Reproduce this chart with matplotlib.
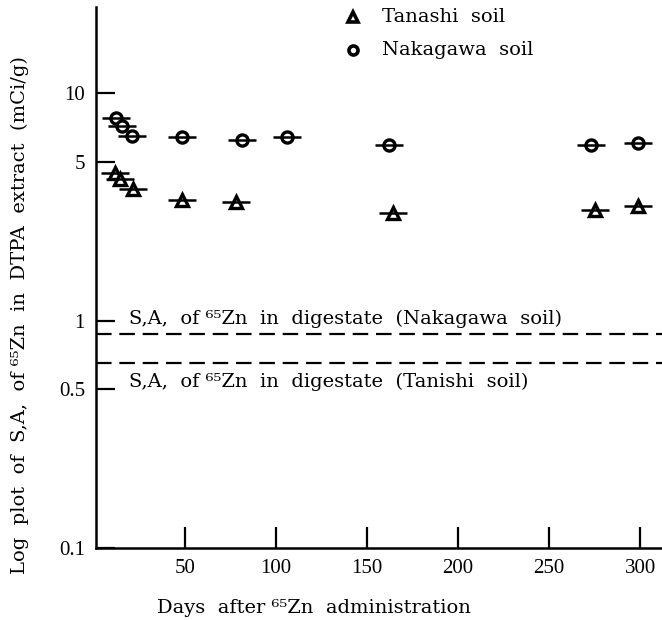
import matplotlib
matplotlib.use('Agg')
import matplotlib.pyplot as plt

plt.rcParams['font.family'] = ['DejaVu Serif', 'Liberation Serif']

# Données
days_nakagawa = [12, 15.5, 21, 48, 81, 106, 162, 273, 299]
sa_nakagawa = [7.8, 7.15, 6.5, 6.4, 6.2, 6.45, 5.95, 5.95, 6.05]
days_tanashi = [11.5, 14, 21.5, 48, 78, 164, 275, 299]
sa_tanashi = [4.45, 4.18, 3.78, 3.38, 3.31, 2.99, 3.08, 3.18]

digest_nakagawa = 0.877
digest_tanishi = 0.653

yticks = [0.1, 0.5, 1, 5, 10]
ytick_labels = ['0.1', '0.5', '1', '5', '10']
xticks = [50, 100, 150, 200, 250, 300]

fig = plt.figure(figsize=(6.62, 6.20), dpi=100)
ax = fig.add_axes([0.145, 0.116, 0.855, 0.873])
ax.set_yscale('log')
ax.set_xlim(1, 312)
ax.set_ylim(0.1, 24)

# Points + petits traits horizontaux
ax.plot(days_nakagawa, sa_nakagawa, 'o', ms=8, mfc='white', mec='black', mew=2.4, ls='none')
ax.plot(days_nakagawa, sa_nakagawa, '_', ms=20, mec='black', mew=1.8, ls='none')
ax.plot(days_tanashi, sa_tanashi, '^', ms=8, mfc='white', mec='black', mew=2.4, ls='none')
ax.plot(days_tanashi, sa_tanashi, '_', ms=20, mec='black', mew=1.8, ls='none')

# Lignes de l'activité spécifique du digestat
ax.axhline(digest_nakagawa, color='black', lw=1.6, dashes=(7, 3.5))
ax.axhline(digest_tanishi, color='black', lw=1.6, dashes=(7, 3.5))
ax.text(19, 1.02, 'S,A,  of \u2076\u2075Zn  in  digestate  (Nakagawa  soil)', fontsize=14,
        va='center', ha='left')
ax.text(19, 0.54, 'S,A,  of \u2076\u2075Zn  in  digestate  (Tanishi  soil)', fontsize=14,
        va='center', ha='left')

# Légende faite à la main
ax.plot([142], [21.6], '^', ms=7, mfc='white', mec='black', mew=2.6, clip_on=False)
ax.plot([142], [15.5], 'o', ms=6.5, mfc='white', mec='black', mew=2.6, clip_on=False)
ax.text(158, 21.6, 'Tanashi  soil', fontsize=14, va='center')
ax.text(158, 15.5, 'Nakagawa  soil', fontsize=14, va='center')

ax.set_yticks(yticks)
ax.set_yticklabels(ytick_labels)
ax.minorticks_off()
ax.set_xticks(xticks)
ax.tick_params(direction='in', length=15, width=1.6, labelsize=15, pad=8)
ax.tick_params(axis='y', length=14)
for lab in ax.get_xticklabels() + ax.get_yticklabels():
    lab.set_family('Liberation Serif')

for side in ['top', 'right']:
    ax.spines[side].set_visible(False)
for side in ['left', 'bottom']:
    ax.spines[side].set_linewidth(1.8)

ax.set_xlabel('Days  after \u2076\u2075Zn  administration', fontsize=14)
ax.xaxis.set_label_coords(0.385, -0.095)
ax.set_ylabel('Log  plot  of  S,A,  of \u2076\u2075Zn  in  DTPA  extract  (mCi/g)', fontsize=14)
ax.yaxis.set_label_coords(-0.118, 0.43)

fig.savefig('out.png', dpi=100)
